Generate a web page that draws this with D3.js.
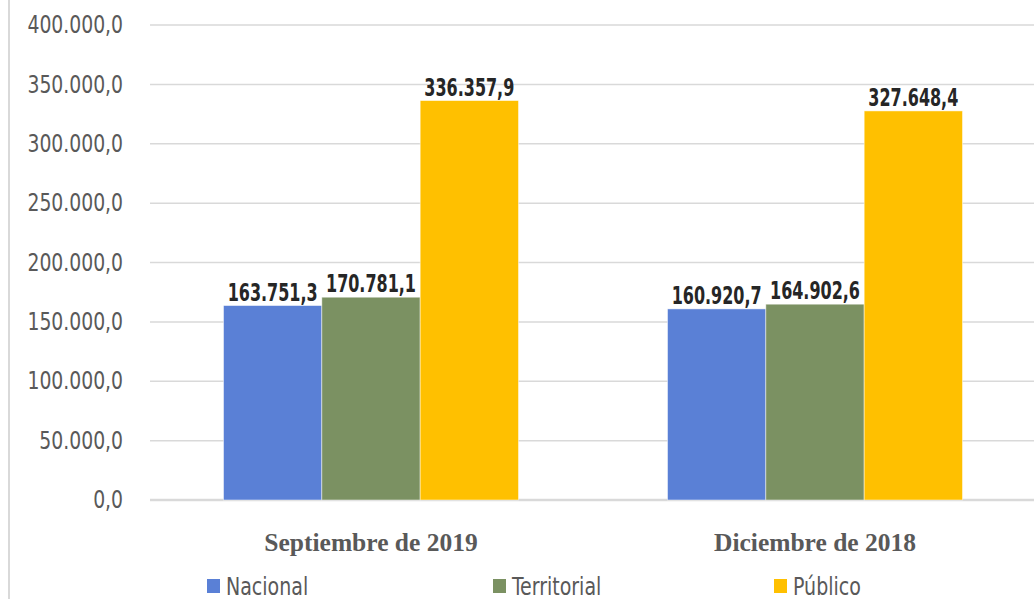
<!DOCTYPE html>
<html>
<head>
<meta charset="utf-8">
<script src="https://cdn.jsdelivr.net/npm/d3@7"></script>
<style>
  body { margin: 0; background: #fff; }
  svg { display: block; }
</style>
</head>
<body>
<script>
  const categories = ["Septiembre de 2019", "Diciembre de 2018"]
  const series = ["Nacional", "Territorial", "Público"]
  const nacional = [163751.3, 160920.7]
  const territorial = [170781.1, 164902.6]
  const publico = [336357.9, 327648.4]
  const yTicks = [0, 50000, 100000, 150000, 200000, 250000, 300000, 350000, 400000]
  const colors = ["#5a80d6", "#7b9162", "#ffc000"]

  const width = 1034, height = 599
  const narrow = "'DejaVu Sans Condensed', 'Liberation Sans Narrow', sans-serif"

  // formato es-CO: 163.751,3
  const fmt = v => {
    const s = v.toFixed(1).split(".")
    return s[0].replace(/\B(?=(\d{3})+(?!\d))/g, ".") + "," + s[1]
  }

  // estrecha el texto para imitar una fuente condensada
  const squeeze = (sel, k) => sel.each(function () {
    const w = this.getComputedTextLength()
    d3.select(this).attr("textLength", w * k).attr("lengthAdjust", "spacingAndGlyphs")
  })

  const values = [nacional, territorial, publico]
  const rows = categories.map((c, i) => ({
    cat: c,
    vals: series.map((s, j) => ({ key: s, value: values[j][i], color: colors[j] }))
  }))

  const svg = d3.select("body").append("svg")
    .attr("width", width).attr("height", height)

  // borde izquierdo del área del gráfico
  svg.append("line")
    .attr("x1", 9).attr("x2", 9).attr("y1", 0).attr("y2", height)
    .attr("stroke", "#d9d9d9").attr("stroke-width", 2)

  const y = d3.scaleLinear().domain([0, 400000]).range([500, 25])
  const x0 = d3.scaleBand().domain(categories).range([149, 1037])
  const inner = d3.scaleBand().domain(series).range([0, 295])

  // rejilla
  svg.append("g").selectAll("line").data(yTicks).enter()
    .append("line")
      .attr("x1", 150).attr("x2", width)
      .attr("y1", d => y(d)).attr("y2", d => y(d))
      .attr("stroke", "#d9d9d9").attr("stroke-width", d => d === 0 ? 2.5 : 1.5)

  // eje Y
  const axY = svg.append("g")
    .attr("transform", "translate(123,0)")
    .call(d3.axisLeft(y).tickValues(yTicks).tickFormat(fmt).tickSize(0).tickPadding(0))
  axY.select(".domain").remove()
  axY.selectAll("text")
    .attr("font-family", narrow).attr("font-size", 24).attr("fill", "#595959")
    .call(squeeze, 0.87)

  // barras
  const g = svg.append("g").selectAll("g").data(rows).enter()
    .append("g")
      .attr("transform", d => `translate(${x0(d.cat) + (x0.bandwidth() - 295) / 2},0)`)

  g.selectAll("rect").data(d => d.vals).enter()
    .append("rect")
      .attr("x", d => inner(d.key))
      .attr("width", inner.bandwidth())
      .attr("y", d => y(d.value))
      .attr("height", d => y(0) - y(d.value))
      .attr("fill", d => d.color)
      .attr("stroke", "#ffffff").attr("stroke-width", 0.8).attr("stroke-opacity", 0.6)

  g.selectAll("text").data(d => d.vals).enter()
    .append("text")
      .attr("x", d => inner(d.key) + inner.bandwidth() / 2)
      .attr("y", d => y(d.value) - 5)
      .attr("text-anchor", "middle")
      .attr("font-family", narrow).attr("font-weight", "bold")
      .attr("font-size", 24).attr("fill", "#262626")
      .text(d => fmt(d.value))
      .call(squeeze, 0.74)

  // eje X (categorías)
  svg.append("g").selectAll("text").data(categories).enter()
    .append("text")
      .attr("x", d => x0(d) + x0.bandwidth() / 2)
      .attr("y", 551)
      .attr("text-anchor", "middle")
      .attr("font-family", "'Liberation Serif', 'Times New Roman', serif")
      .attr("font-weight", "bold").attr("font-size", 26).attr("fill", "#595959")
      .text(d => d)
      .call(squeeze, 0.98)

  // leyenda
  const legX = [207, 493, 774]
  const leg = svg.append("g").selectAll("g").data(series).enter()
    .append("g")
      .attr("transform", (d, i) => `translate(${legX[i]},579)`)
  leg.append("rect")
    .attr("width", 13).attr("height", 14)
    .attr("fill", (d, i) => colors[i])
  leg.append("text")
    .attr("x", 19).attr("y", 16)
    .attr("font-family", narrow).attr("font-size", 24).attr("fill", "#595959")
    .text(d => d)
    .call(squeeze, 0.88)
</script>
</body>
</html>
